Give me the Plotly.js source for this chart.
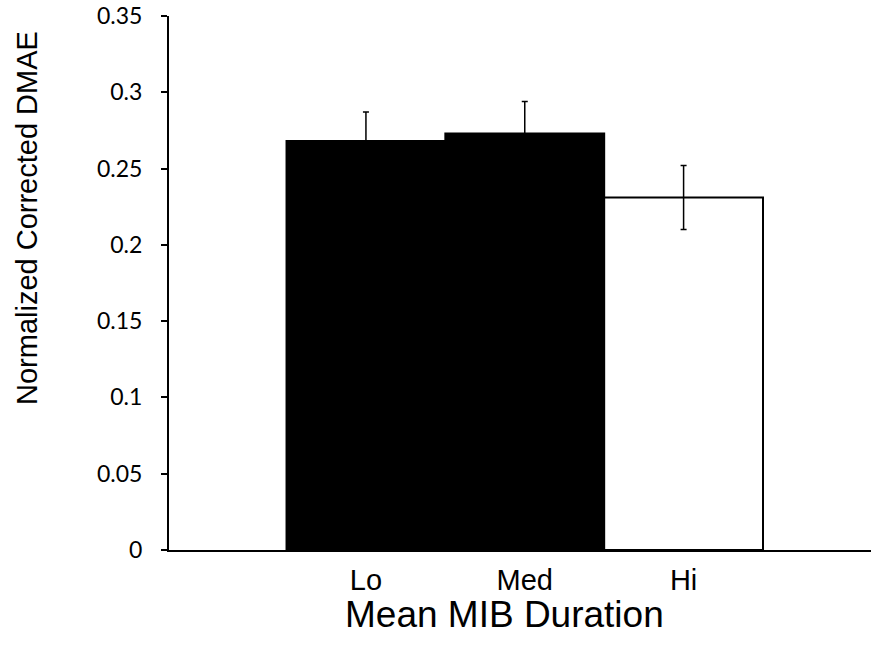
<!DOCTYPE html>
<html>
<head>
<meta charset="utf-8">
<script src="https://cdn.plot.ly/plotly-3.0.1.min.js"></script>
<style>html,body{margin:0;padding:0;background:#fff;}#chart{width:871px;height:649px;}</style>
</head>
<body>
<div id="chart"></div>
<script>
const categories = ["Lo", "Med", "Hi"];
const values = [0.268, 0.273, 0.231];
const errors = [0.019, 0.021, 0.021];
const barColors = ["#000000", "#000000", "#ffffff"];
const yTicks = [0, 0.05, 0.1, 0.15, 0.2, 0.25, 0.3, 0.35];
const xTitle = "Mean MIB Duration";
const yTitle = "Normalized Corrected DMAE";

const trace = {
  type: "bar",
  x: categories,
  y: values,
  width: 1,
  marker: { color: barColors, line: { color: "#000000", width: 2 } },
  error_y: { type: "data", array: errors, visible: true, color: "#000000", thickness: 1.5, width: 3 },
  hoverinfo: "none"
};

const layout = {
  width: 871, height: 649,
  margin: { l: 169, r: 0, t: 16, b: 99 },
  paper_bgcolor: "#ffffff", plot_bgcolor: "#ffffff",
  showlegend: false,
  bargap: 0,
  xaxis: {
    type: "category",
    range: [-1.24, 3.18],
    showgrid: false, zeroline: false,
    showline: true, linecolor: "#000000", linewidth: 2,
    ticks: "",
    ticklabelstandoff: 3,
    tickfont: { family: "Liberation Sans, Arial, sans-serif", size: 29, color: "#000" }
  },
  yaxis: {
    range: [0, 0.35],
    tickvals: yTicks,
    ticktext: yTicks.map(v => String(v)),
    showgrid: false, zeroline: false,
    showline: true, linecolor: "#000000", linewidth: 2,
    ticks: "outside", ticklen: 6, tickwidth: 2, tickcolor: "#000",
    ticklabelstandoff: 14,
    tickfont: { family: "Lato, Open Sans, sans-serif", size: 23, color: "#000" }
  },
  annotations: [
    { text: xTitle, xref: "paper", yref: "paper", x: 0.4786, y: -0.1217, xanchor: "center", yanchor: "middle", showarrow: false,
      font: { family: "Liberation Sans, Arial, sans-serif", size: 37, color: "#000" } },
    { text: yTitle, xref: "paper", yref: "paper", x: -0.2023, y: 0.6217, xanchor: "center", yanchor: "middle", textangle: -90, showarrow: false,
      font: { family: "Liberation Sans, Arial, sans-serif", size: 29, color: "#000" } }
  ]
};

Plotly.newPlot("chart", [trace], layout, { displayModeBar: false, staticPlot: true });
</script>
</body>
</html>
